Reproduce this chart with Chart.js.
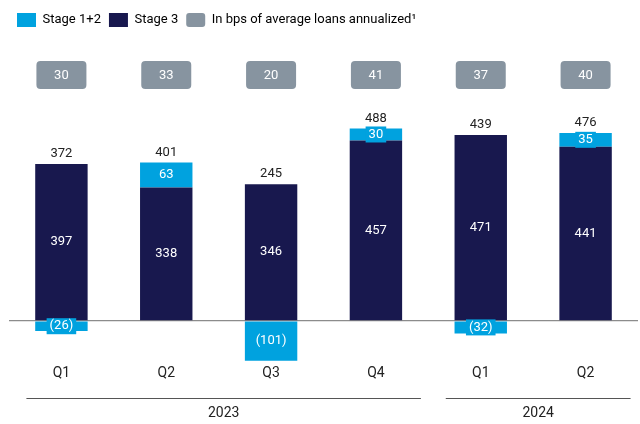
<!DOCTYPE html>
<html>
<head>
<meta charset="utf-8">
<script src="https://cdn.jsdelivr.net/npm/chart.js@4.4.1/dist/chart.umd.min.js"></script>
<style>
  html, body { margin: 0; padding: 0; background: #fff; }
  #wrap { width: 640px; height: 424px; }
</style>
</head>
<body>
<div id="wrap"><canvas id="myChart" width="640" height="424"></canvas></div>
<script>
// chart values
const quarters = ['Q1', 'Q2', 'Q3', 'Q4', 'Q1', 'Q2'];
const years = ['2023', '2024'];
const yearFirst = [0, 4];
const yearLast = [3, 5];
const stage12 = [-26, 63, -101, 30, -32, 35];
const stage3 = [397, 338, 346, 457, 471, 441];
const totals = [372, 401, 245, 488, 439, 476];
const bps = [30, 33, 20, 41, 37, 40];

const CYAN = '#00a2df';
const NAVY = '#18184e';
const GREY = '#8794a0';
const FONT = 'Roboto, "Noto Sans", sans-serif';

function fmt(v) {
    return v < 0 ? '(' + Math.abs(v) + ')' : String(v);
}

function roundRect(ctx, x, y, w, h, r) {
    ctx.beginPath();
    ctx.moveTo(x + r, y);
    ctx.arcTo(x + w, y, x + w, y + h, r);
    ctx.arcTo(x + w, y + h, x, y + h, r);
    ctx.arcTo(x, y + h, x, y, r);
    ctx.arcTo(x, y, x + w, y, r);
    ctx.closePath();
}

// labels, bps boxes and year brackets
const extras = {
    id: 'extras',
    afterDatasetsDraw(chart) {
        const ctx = chart.ctx;
        const x = chart.scales.x;
        const m3 = chart.getDatasetMeta(0);
        const m12 = chart.getDatasetMeta(1);
        ctx.save();
        ctx.textAlign = 'center';
        ctx.textBaseline = 'middle';
        ctx.font = '13px ' + FONT;

        // stage 3 values
        m3.data.forEach((el, i) => {
            ctx.fillStyle = '#ffffff';
            ctx.fillText(fmt(stage3[i]), el.x, (el.y + el.base) / 2);
        });

        // stage 1+2 values, with a small backing box
        m12.data.forEach((el, i) => {
            const t = fmt(stage12[i]);
            const cy = (el.y + el.base) / 2;
            const w = ctx.measureText(t).width + 6;
            ctx.fillStyle = CYAN;
            ctx.fillRect(el.x - w / 2, cy - 8, w, 16);
            ctx.fillStyle = '#ffffff';
            ctx.fillText(t, el.x, cy);
        });

        // totals above the stack
        m3.data.forEach((el, i) => {
            const top = Math.min(el.y, m12.data[i].y, m12.data[i].base);
            ctx.fillStyle = '#222222';
            ctx.fillText(String(totals[i]), el.x, top - 10);
        });

        // bps boxes
        bps.forEach((v, i) => {
            const cx = x.getPixelForValue(i);
            ctx.fillStyle = GREY;
            roundRect(ctx, cx - 25, 61, 50, 28, 4);
            ctx.fill();
            ctx.fillStyle = '#ffffff';
            ctx.fillText(String(v), cx, 75.5);
        });

        // year brackets
        ctx.strokeStyle = '#555555';
        ctx.lineWidth = 1;
        ctx.font = '14px ' + FONT;
        years.forEach((y, k) => {
            const x0 = x.getPixelForValue(yearFirst[k]) - 35;
            const x1 = x.getPixelForValue(yearLast[k]) + 45;
            ctx.beginPath();
            ctx.moveTo(x0, 398.5);
            ctx.lineTo(x1, 398.5);
            ctx.stroke();
            ctx.fillStyle = '#222222';
            ctx.fillText(y, (x0 + x1) / 2, 413);
        });
        ctx.restore();
    }
};

const data = {
    labels: quarters,
    datasets: [
        {
            label: 'Stage 3',
            data: stage3,
            backgroundColor: NAVY,
            stack: 's',
            barPercentage: 0.5,
            categoryPercentage: 1
        },
        {
            label: 'Stage 1+2',
            data: stage12,
            backgroundColor: CYAN,
            stack: 's',
            barPercentage: 0.5,
            categoryPercentage: 1
        }
    ]
};

const config = {
    type: 'bar',
    data: data,
    plugins: [extras],
    options: {
        responsive: false,
        animation: false,
        layout: {
            padding: { left: 9, right: 2, top: 5, bottom: 41 }
        },
        scales: {
            x: {
                stacked: true,
                grid: { display: false, drawTicks: false },
                border: { display: false },
                ticks: {
                    padding: 1,
                    color: '#222222',
                    font: { family: FONT, size: 14 }
                }
            },
            y: {
                stacked: true,
                min: -110,
                max: 719,
                afterBuildTicks: (scale) => { scale.ticks = [{ value: 0 }]; },
                ticks: { display: false },
                border: { display: false },
                grid: {
                    drawTicks: false,
                    color: '#8c8c8c',
                    lineWidth: 1.2
                }
            }
        },
        plugins: {
            tooltip: { enabled: false },
            legend: {
                position: 'top',
                align: 'start',
                labels: {
                    boxWidth: 19,
                    boxHeight: 14,
                    padding: 8,
                    useBorderRadius: true,
                    color: '#222222',
                    font: { family: FONT, size: 13 },
                    generateLabels: () => [
                        { text: 'Stage 1+2', fillStyle: CYAN, strokeStyle: CYAN, lineWidth: 0, borderRadius: 0, hidden: false, datasetIndex: 1 },
                        { text: 'Stage 3', fillStyle: NAVY, strokeStyle: NAVY, lineWidth: 0, borderRadius: 0, hidden: false, datasetIndex: 0 },
                        { text: 'In bps of average loans annualized\u00b9', fillStyle: GREY, strokeStyle: GREY, lineWidth: 0, borderRadius: 3, hidden: false }
                    ]
                }
            }
        }
    }
};

new Chart(document.getElementById('myChart'), config);
</script>
</body>
</html>
